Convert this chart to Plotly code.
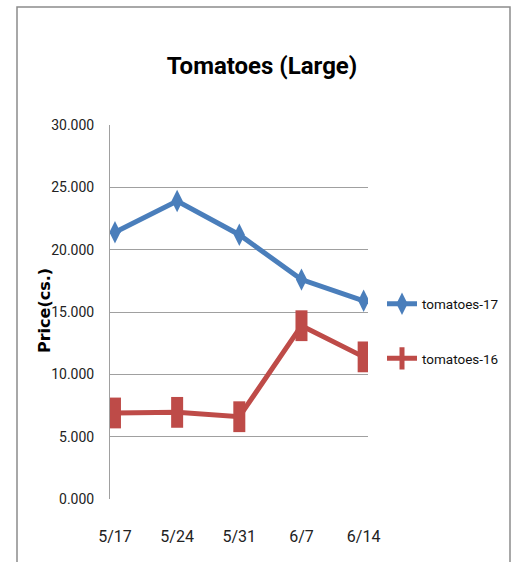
import plotly.graph_objects as go

dates = ["5/17", "5/24", "5/31", "6/7", "6/14"]
tomatoes_17 = [21.4, 23.9, 21.2, 17.6, 15.9]
tomatoes_16 = [6.9, 6.95, 6.6, 13.9, 11.4]
y_ticks = [0, 5, 10, 15, 20, 25, 30]
y_tick_labels = ["0.000", "5.000", "10.000", "15.000", "20.000", "25.000", "30.000"]

FONT = "Roboto, sans-serif"
W, H = 514, 562

# plot area in page pixels
PL, PR, PT, PB = 110, 368, 125, 499
PW, PH = PR - PL, PB - PT


def px(x):
    return (x - PL) / PW


def py(y):
    return (PB - y) / PH


fig = go.Figure()
fig.add_trace(go.Scatter(
    x=list(range(len(dates))), y=tomatoes_17, name="tomatoes-17",
    mode="lines+markers", legendgroup="a",
    line=dict(color="#4A7EBB", width=5),
    marker=dict(symbol="diamond-tall", size=16, color="#4A7EBB"),
))
fig.add_trace(go.Scatter(
    x=list(range(len(dates))), y=tomatoes_16, name="tomatoes-16",
    mode="lines+markers", legendgroup="b",
    line=dict(color="#BE4B48", width=5),
    marker=dict(symbol="line-ns", size=22, color="#BE4B48",
                line=dict(color="#BE4B48", width=12)),
))

fig.update_layout(
    width=W, height=H,
    margin=dict(l=PL, r=W - PR, t=PT, b=H - PB, autoexpand=False),
    paper_bgcolor="white", plot_bgcolor="white",
    font=dict(family=FONT, color="#222", size=14),
    title=dict(text="<b>Tomatoes (Large)</b>", x=262 / W, xref="container",
               xanchor="center", y=1 - 66 / H, yanchor="middle",
               font=dict(family=FONT, size=24, color="#000")),
    showlegend=True,
    legend=dict(x=382 / W, y=1 - 331.5 / H, xref="container", yref="container",
                xanchor="left", yanchor="middle",
                font=dict(family=FONT, size=13.5, color="#111"),
                tracegroupgap=34, itemwidth=30, bgcolor="rgba(0,0,0,0)"),
    xaxis=dict(
        tickmode="array", tickvals=list(range(len(dates))), ticktext=dates,
        range=[-0.08, 4.07], showgrid=False, zeroline=False,
        showline=False, ticks="", ticklabelstandoff=26,
        tickfont=dict(family=FONT, size=16, color="#222"),
    ),
    yaxis=dict(
        tickmode="array", tickvals=y_ticks, ticktext=y_tick_labels,
        range=[0, 30], showgrid=True, gridcolor="#A0A0A0", gridwidth=1,
        zeroline=False, showline=True, linecolor="#A0A0A0", linewidth=1,
        ticks="", ticklabelstandoff=12,
        tickfont=dict(family=FONT, size=14, color="#222"),
    ),
    annotations=[dict(text="<b>Price(cs.)</b>", textangle=-90, showarrow=False,
                      xref="paper", yref="paper", x=px(44), y=py(311),
                      xanchor="center", yanchor="middle",
                      font=dict(family="DejaVu Sans, sans-serif", size=16, color="#000"))],
    shapes=[dict(type="rect", xref="paper", yref="paper",
                 x0=px(17), x1=px(510), y0=py(575), y1=py(7),
                 line=dict(color="#8C8C8C", width=1.5), fillcolor="rgba(0,0,0,0)",
                 layer="below")],
)

fig.write_html("out.html",
               config={"responsive": False, "displayModeBar": False},
               post_script="document.body.style.margin='0';document.body.style.overflow='hidden';")
